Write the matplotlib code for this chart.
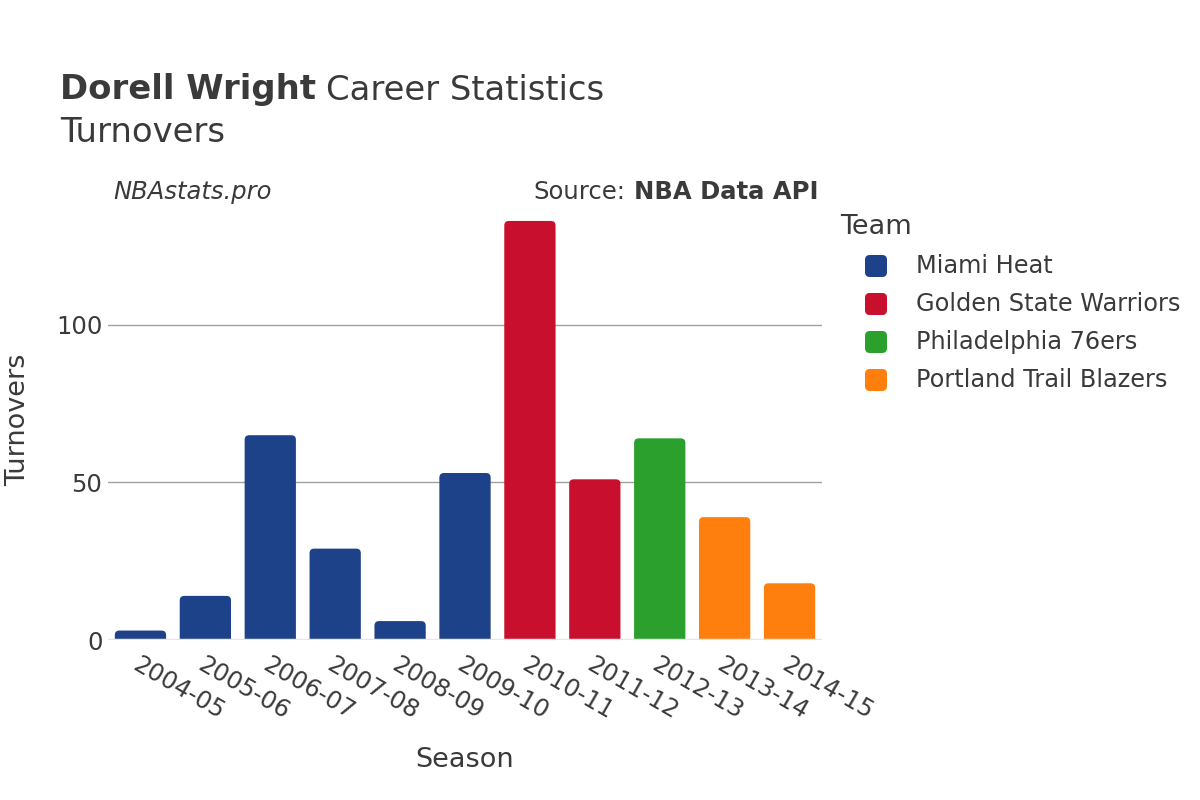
import matplotlib.pyplot as plt
from matplotlib.patches import FancyBboxPatch

plt.rcParams['font.family'] = ['DejaVu Sans']

seasons = ['2004-05', '2005-06', '2006-07', '2007-08', '2008-09', '2009-10',
           '2010-11', '2011-12', '2012-13', '2013-14', '2014-15']
turnovers = [3, 14, 65, 29, 6, 53, 133, 51, 64, 39, 18]
teams = ['Miami Heat', 'Miami Heat', 'Miami Heat', 'Miami Heat', 'Miami Heat', 'Miami Heat',
         'Golden State Warriors', 'Golden State Warriors', 'Philadelphia 76ers',
         'Portland Trail Blazers', 'Portland Trail Blazers']
team_names = ['Miami Heat', 'Golden State Warriors', 'Philadelphia 76ers', 'Portland Trail Blazers']
team_colors = ['#1d428a', '#c8102e', '#2ca02c', '#ff7f0e']
color_of = dict(zip(team_names, team_colors))

txt = '#3a3a3a'
W, H = 1200, 800

fig = plt.figure(figsize=(12, 8), dpi=100)
ax = fig.add_axes([0.09, 0.2, 0.595, 0.55])

ymax = max(turnovers) * 1.05
ax.set_xlim(-0.5, len(seasons) - 0.5)
ax.set_ylim(0, ymax)

# rounded bars: x unit vs y unit pixel ratio for corner correction
bbox = ax.get_position()
px_x = bbox.width * W / len(seasons)
px_y = bbox.height * H / ymax
aspect = px_x / px_y
w = 0.79
for i, (v, t) in enumerate(zip(turnovers, teams)):
    p = FancyBboxPatch((i - w / 2, -5), w, v + 5,
                       boxstyle='round,pad=0,rounding_size=0.07',
                       mutation_aspect=aspect, fc=color_of[t], ec='none',
                       zorder=2, clip_on=True)
    ax.add_patch(p)

ax.set_yticks([0, 50, 100])
ax.set_yticklabels(['0', '50', '100'], fontsize=17.5, color=txt)
for y in [50, 100]:
    ax.axhline(y, color='#a0a0a0', lw=1, zorder=1)
ax.axhline(0, color='#e6e6e6', lw=2.5, zorder=3)

ax.set_xticks(range(len(seasons)))
ax.set_xticklabels(seasons, rotation=-30, ha='left', va='top', rotation_mode='anchor',
                   fontsize=17.5, color=txt)
ax.tick_params(axis='both', length=0)
ax.tick_params(axis='x', pad=9)
ax.tick_params(axis='y', pad=4)
for s in ax.spines.values():
    s.set_visible(False)

fig.text(465 / W, 1 - 760 / H, 'Season', fontsize=19.5, color=txt, ha='center', va='center')
fig.text(18 / W, 1 - 420 / H, 'Turnovers', fontsize=19.5, color=txt, ha='center',
         va='center', rotation=90)

r = fig.canvas.get_renderer()

t1 = fig.text(60 / W, 1 - 90 / H, 'Dorell Wright', fontsize=24.4, fontweight='bold',
              color=txt, va='center')
x1 = t1.get_window_extent(r).x1
fig.text((x1 + 10) / W, 1 - 90 / H, 'Career Statistics', fontsize=24.4, color=txt, va='center')
fig.text(60 / W, 1 - 133 / H, 'Turnovers', fontsize=24.4, color=txt, va='center')

fig.text(113 / W, 1 - 192 / H, 'NBAstats.pro', fontsize=17.5, style='italic',
         color=txt, va='center')
t2 = fig.text(818 / W, 1 - 192 / H, 'NBA Data API', fontsize=17.5, fontweight='bold',
              color=txt, va='center', ha='right')
x0 = t2.get_window_extent(r).x0
fig.text((x0 - 8) / W, 1 - 192 / H, 'Source:', fontsize=17.5, color=txt,
         va='center', ha='right')

# legend
fig.text(840 / W, 1 - 227 / H, 'Team', fontsize=19.5, color=txt, va='center')
for k, (name, c) in enumerate(zip(team_names, team_colors)):
    yc = 266 + 38 * k
    fig.patches.append(FancyBboxPatch(((865) / W, 1 - (yc + 11) / H), 22 / W, 22 / H,
                                      boxstyle='round,pad=0,rounding_size=0.004',
                                      mutation_aspect=W / H, transform=fig.transFigure,
                                      fc=c, ec='none', figure=fig))
    fig.text(916 / W, 1 - yc / H, name, fontsize=17.3, color=txt, va='center')

fig.savefig('out.png', dpi=100)
